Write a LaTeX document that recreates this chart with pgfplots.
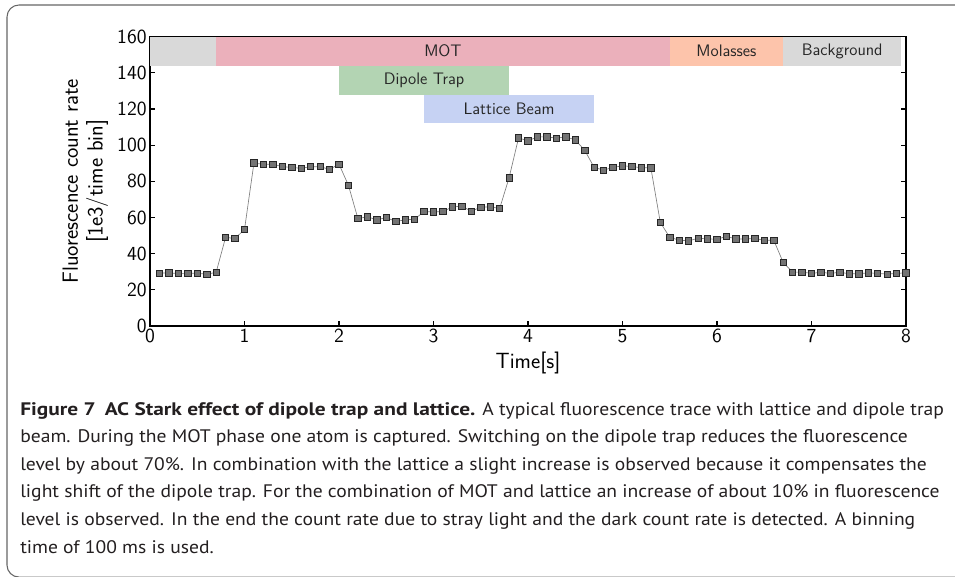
\documentclass[border=0pt]{standalone}
\usepackage{fontspec}
\usepackage{pgfplots}
\pgfplotsset{compat=1.18}
\newfontfamily\capfont{PT Sans}[FakeStretch=1.08, BoldFeatures={FakeStretch=1.18}]
\definecolor{bgray}{HTML}{D9D9D9}
\definecolor{mot}{HTML}{EBB0BB}
\definecolor{mol}{HTML}{FDC4AB}
\definecolor{dip}{HTML}{B3D4B3}
\definecolor{lat}{HTML}{C6D2F3}
\definecolor{capcol}{HTML}{231F20}
\begin{document}
\begin{tikzpicture}
\useasboundingbox (0,0) rectangle (716.25pt,432pt);
\draw[gray!80!black, line width=0.8pt, rounded corners=9pt] (800pt,428.25pt) -- (5.25pt,428.25pt) -- (5.25pt,-0.8pt) -- (800pt,-0.8pt);
\begin{axis}[
  at={(112.5pt,187.5pt)}, anchor=south west,
  scale only axis, width=567pt, height=217pt,
  xmin=0, xmax=8, ymin=0, ymax=160,
  xtick={0,1,...,8}, ytick={0,20,...,160},
  tick align=inside, tick pos=both,
  xticklabel pos=lower, yticklabel pos=left,
  major tick length=4pt,
  axis line style={line width=1pt},
  every tick/.style={black, line width=0.8pt},
  /pgf/number format/assume math mode=true,
  tick label style={font=\sffamily\fontsize{15}{17}\selectfont},
  label style={font=\sffamily\fontsize{16.5}{18.5}\selectfont},
  xlabel={Time[s]},
  ylabel={Fluorescence count rate\\ {[1e3/time bin]}},
  ylabel style={align=center},
  xticklabel style={yshift=1pt},
  yticklabel style={xshift=1pt},
  clip=false,
]
\addplot[fill=bgray, draw=none] coordinates {(0,144) (0.7,144) (0.7,160) (0,160)} -- cycle;
\addplot[fill=mot, draw=none] coordinates {(0.7,144) (5.5,144) (5.5,160) (0.7,160)} -- cycle;
\addplot[fill=mol, draw=none] coordinates {(5.5,144) (6.7,144) (6.7,160) (5.5,160)} -- cycle;
\addplot[fill=bgray, draw=none] coordinates {(6.7,144) (7.95,144) (7.95,160) (6.7,160)} -- cycle;
\addplot[fill=dip, draw=none] coordinates {(2.0,128) (3.8,128) (3.8,144) (2.0,144)} -- cycle;
\addplot[fill=lat, draw=none] coordinates {(2.9,112) (4.7,112) (4.7,128) (2.9,128)} -- cycle;
\begin{scope}[every node/.style={font=\sffamily\fontsize{12.5}{14}\selectfont, text=black!85}]
\node at (axis cs:3.1,152) {MOT};
\node at (axis cs:6.1,152) {Molasses};
\node at (axis cs:7.325,152) {Background};
\node at (axis cs:2.9,136) {Dipole Trap};
\node at (axis cs:3.8,120) {Lattice Beam};
\end{scope}
\addplot[color=black!50, line width=0.5pt, mark=square*, mark size=2.4pt,
  mark options={fill=black!55, draw=black!85, line width=0.6pt}] coordinates {
(0.1,29.2) (0.2,29.4) (0.3,29.0) (0.4,29.2) (0.5,29.2) (0.6,28.6) (0.7,29.7)
(0.8,49.0) (0.9,48.4) (1.0,53.4) (1.1,90.1) (1.2,89.4) (1.3,89.5) (1.4,88.1)
(1.5,87.7) (1.6,87.2) (1.7,88.1) (1.8,88.1) (1.9,86.6) (2.0,89.5) (2.1,77.8)
(2.2,59.4) (2.3,60.4) (2.4,58.7) (2.5,60.0) (2.6,57.8) (2.7,58.7) (2.8,59.1)
(2.9,63.3) (3.0,63.1) (3.1,63.3) (3.2,65.9) (3.3,66.2) (3.4,63.5) (3.5,65.7)
(3.6,65.9) (3.7,65.0) (3.8,82.0) (3.9,104.0) (4.0,102.4) (4.1,104.6) (4.2,104.6)
(4.3,103.9) (4.4,104.6) (4.5,102.9) (4.6,97.2) (4.7,87.7) (4.8,86.2) (4.9,87.7)
(5.0,88.6) (5.1,88.2) (5.2,87.5) (5.3,87.5) (5.4,57.3) (5.5,49.0) (5.6,47.5)
(5.7,47.1) (5.8,48.5) (5.9,48.2) (6.0,47.9) (6.1,49.6) (6.2,48.1) (6.3,48.1)
(6.4,48.5) (6.5,47.3) (6.6,47.5) (6.7,35.2) (6.8,29.8) (6.9,29.8) (7.0,29.1)
(7.1,29.7) (7.2,29.1) (7.3,29.7) (7.4,28.9) (7.5,28.9) (7.6,29.4) (7.7,29.1)
(7.8,28.7) (7.9,29.1) (8.0,29.4)
};
\end{axis}
\node[anchor=base west, inner sep=0pt, align=left, text=capcol,
  font=\capfont\fontsize{13.6}{20.7}\selectfont] at (15pt,17.25pt)
{\textbf{Figure 7\enspace AC Stark effect of dipole trap and lattice.} A typical fluorescence trace with lattice and dipole trap\\
beam. During the MOT phase one atom is captured. Switching on the dipole trap reduces the fluorescence\\
level by about 70\%. In combination with the lattice a slight increase is observed because it compensates the\\
light shift of the dipole trap. For the combination of MOT and lattice an increase of about 10\% in fluorescence\\
level is observed. In the end the count rate due to stray light and the dark count rate is detected. A binning\\
time of 100 ms is used.};
\end{tikzpicture}
\end{document}
